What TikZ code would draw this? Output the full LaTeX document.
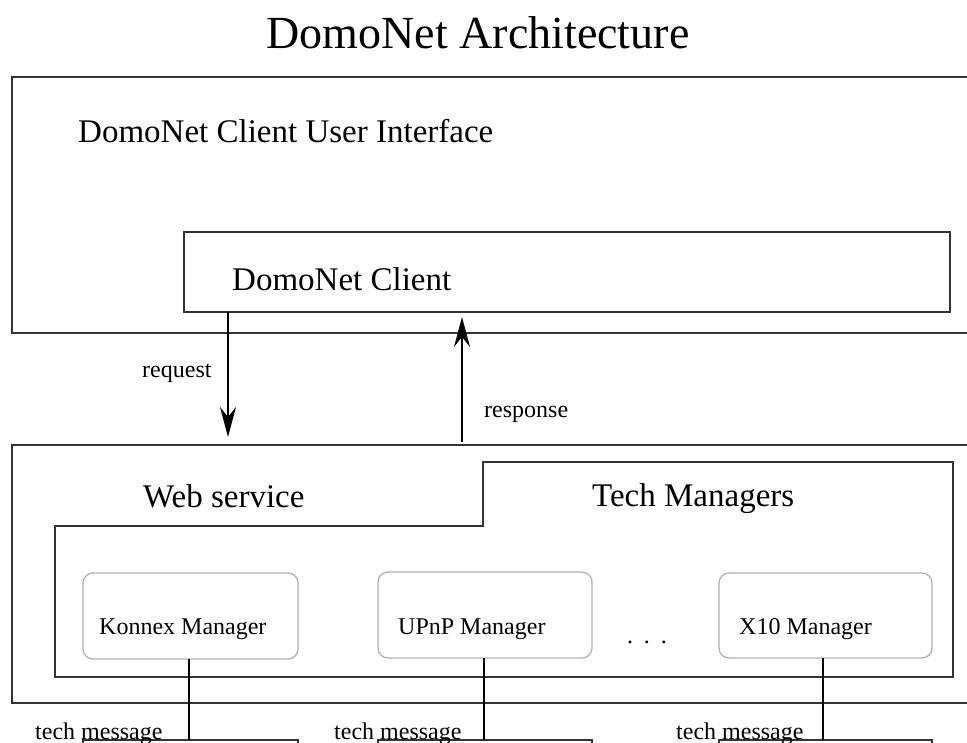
\documentclass[tikz,border=0pt]{standalone}
\usepackage{fontspec}
\setmainfont{Liberation Serif}
\usetikzlibrary{arrows.meta}
\begin{document}
\begin{tikzpicture}[x=1pt,y=-1pt,
  frame/.style={draw=black!80, line width=1.6pt, inner sep=0pt, outer sep=0pt},
  mgr/.style={draw=black!30, line width=1.3pt, rounded corners=10pt, inner sep=0pt, outer sep=0pt},
  devbox/.style={draw=black!80, line width=1.4pt, inner sep=0pt, outer sep=0pt, minimum height=60pt},
  conn/.style={draw=black, line width=1.6pt},
  arr/.style={draw=black, line width=1.5pt, -{Stealth[length=30pt,width=16pt,inset=10pt]}},
  big/.style={font=\fontsize{33}{38}\selectfont, inner sep=0pt, anchor=base west},
  small/.style={font=\fontsize{24}{28}\selectfont, inner sep=0pt, anchor=base west},
]
\useasboundingbox (0,0) rectangle (967,742);
\fill[white] (0,0) rectangle (967,742);

\node[inner sep=0pt, anchor=base, font=\fontsize{46}{52}\selectfont] (title) at (478,48) {DomoNet Architecture};

% upper part
\node[frame, minimum width=978pt, minimum height=256pt] (ui) at (501,205) {};
\node[big] (uilabel) at (78,142) {DomoNet Client User Interface};
\node[frame, minimum width=766pt, minimum height=80pt] (client) at (567,272) {};
\node[big] (clientlabel) at (232,290) {DomoNet Client};

% lower part
\node[frame, minimum width=978pt, minimum height=258pt] (server) at (501,574) {};
\draw[frame] (55,526) -- (483,526) -- (483,462) -- (953,462) -- (953,677) -- (55,677) -- cycle;
\node[big] (wslabel) at (143,507) {Web service};
\node[big] (tmlabel) at (592,506) {Tech Managers};

% managers
\node[mgr, minimum width=215pt, minimum height=86pt] (konnex) at (190.5,616) {};
\node[mgr, minimum width=214pt, minimum height=86pt] (upnp) at (485,615) {};
\node[mgr, minimum width=213pt, minimum height=85pt] (xten) at (825.5,615.5) {};
\node[small] (konnexlabel) at (99,634) {Konnex Manager};
\node[small] (upnplabel) at (398,634) {UPnP Manager};
\node[small] (xtenlabel) at (739,634) {X10 Manager};
\node[small, anchor=base] (dots) at (647,643) {.\hspace{11pt}.\hspace{11pt}.};

% devices (cut off at the bottom)
\node[devbox, minimum width=215pt] (konnexdev) at (190.5,770) {};
\node[devbox, minimum width=214pt] (upnpdev) at (485,770) {};
\node[devbox, minimum width=213pt] (xtendev) at (825.5,770) {};

\coordinate (kx) at (189,0);
\coordinate (ux) at (484,0);
\coordinate (xx) at (823,0);
\draw[conn] (konnex.south -| kx) -- (konnexdev.north -| kx);
\draw[conn] (upnp.south -| ux) -- (upnpdev.north -| ux);
\draw[conn] (xten.south -| xx) -- (xtendev.north -| xx);

\node[small] (tm1) at (35,739) {tech message};
\node[small] (tm2) at (334,739) {tech message};
\node[small] (tm3) at (676,739) {tech message};

% request / response
\coordinate (reqx) at (228,0);
\coordinate (resx) at (462,0);
\draw[arr, shorten >=8pt] (client.south -| reqx) -- (server.north -| reqx);
\draw[arr, shorten <=3pt, shorten >=5pt] (server.north -| resx) -- (client.south -| resx);
\node[small] (reqlabel) at (142,377) {request};
\node[small] (reslabel) at (484,417) {response};
\end{tikzpicture}
\end{document}
